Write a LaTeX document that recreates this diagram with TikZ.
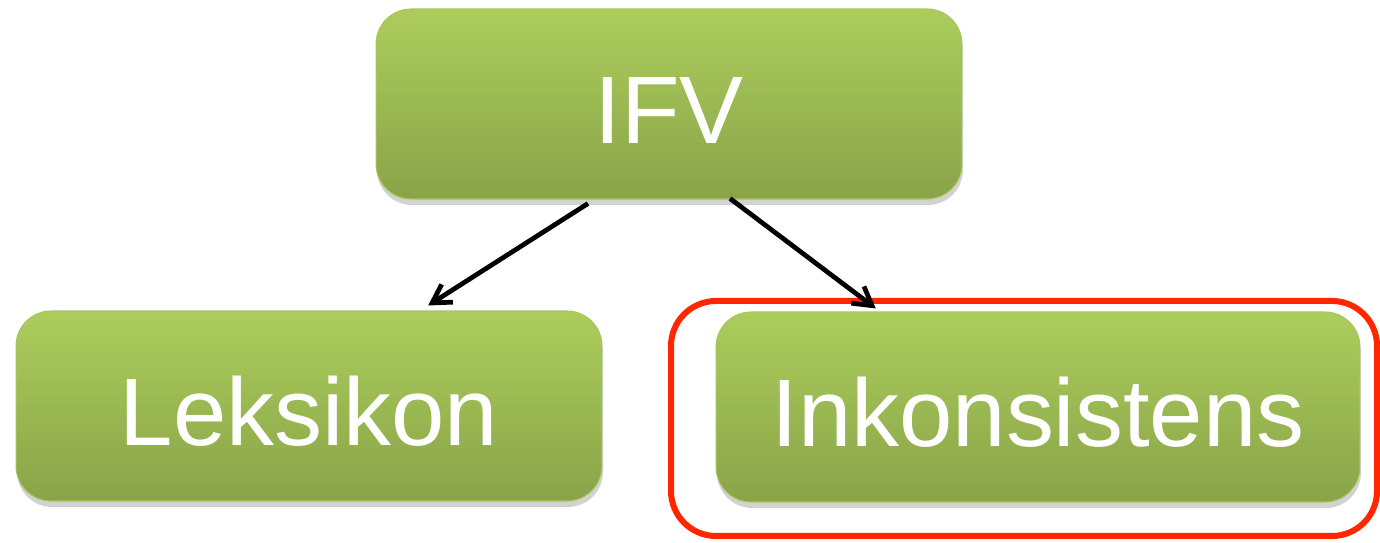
\documentclass[tikz,border=0pt]{standalone}
\usepackage{fontspec}
\setmainfont{Liberation Sans}
\usetikzlibrary{calc,shadows,arrows.meta}
\definecolor{boxtop}{RGB}{172,205,92}
\definecolor{boxbottom}{RGB}{137,164,72}
\definecolor{boxline}{RGB}{165,198,95}
\definecolor{markred}{RGB}{255,38,0}

\begin{document}
\begin{tikzpicture}[x=0.02cm,y=-0.02cm,
  greenbox/.style={rectangle, rounded corners=0.7cm, draw=boxline, line width=0.6pt,
    top color=boxtop, bottom color=boxbottom, minimum height=3.8cm, inner sep=0pt,
    text=white, font=\fontsize{54.6pt}{60pt}\selectfont, text height=1.58cm, text depth=0pt,
    drop shadow={shadow xshift=0.02cm, shadow yshift=-0.12cm, opacity=0.25, fill=black!70}},
  link/.style={-{Straight Barb[length=0.36cm,width=0.42cm]}, black, line width=0.095cm}]
\useasboundingbox (0,0) rectangle (1380,543);

% boxes
\node[greenbox, minimum width=11.72cm] (ifv) at (669,104) {IFV};
\node[greenbox, minimum width=11.72cm] (lex) at (309,406) {Leksikon};
\node[greenbox, minimum width=12.88cm] (ink) at (1038,407) {Inkonsistens};

% red frame round Inkonsistens
\draw[markred, line width=0.12cm, rounded corners=0.9cm] (671,301) rectangle (1377,536);

% arrows
\draw[link] ($(ifv.south)!0.276!(ifv.south west)+(0,4)$) -- ($(lex.north)!0.406!(lex.north east)+(0,-5)$);
\draw[link] ($(ifv.south)!0.208!(ifv.south east)+(0,-1)$) -- ($(ink.north)!0.503!(ink.north west)+(0,-3)$);

\end{tikzpicture}
\end{document}
